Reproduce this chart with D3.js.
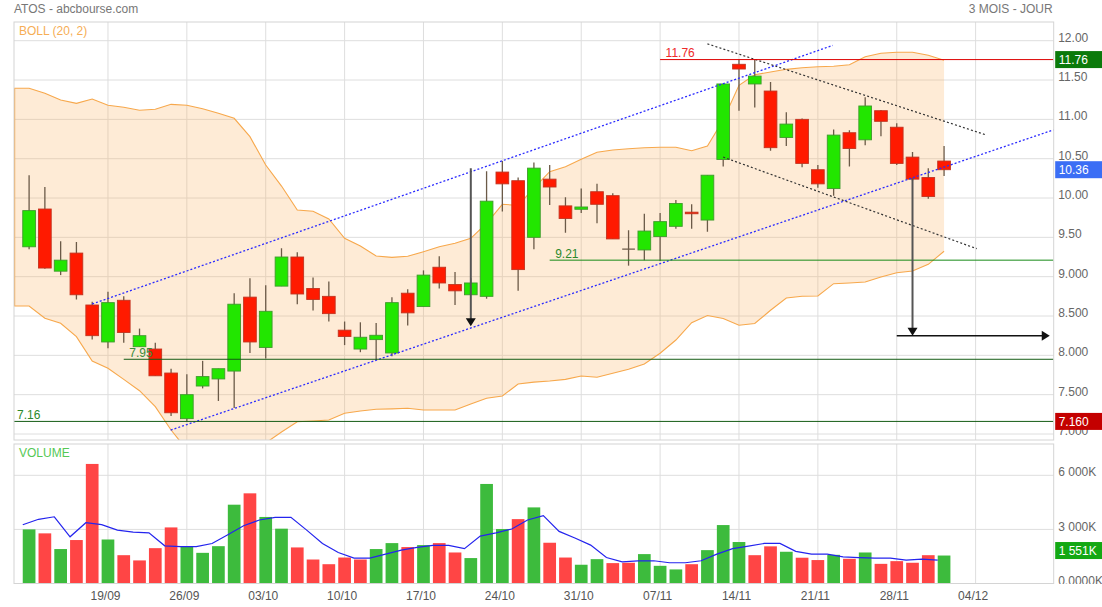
<!DOCTYPE html>
<html><head><meta charset="utf-8">
<script src="https://cdn.jsdelivr.net/npm/d3@7"></script>
<style>
body{margin:0;background:#fff;}
svg text{font-family:"Liberation Sans",Arial,Helvetica,sans-serif;}
</style>
</head><body>
<svg id="chart" width="1102" height="607"></svg>
<script>
// ---------------- DATA ----------------
const opens  = [9.38,9.86,9.07,9.30,8.64,8.17,8.70,8.11,8.08,7.775,7.195,7.61,7.70,7.80,8.74,8.10,8.88,9.25,8.85,8.75,8.32,8.08,8.20,8.03,8.79,8.62,9.12,8.90,8.77,8.75,10.33,10.22,9.50,10.24,9.90,9.857,10.08,10.03,9.35,9.34,9.51,9.64,9.82,9.72,10.49,11.70,11.45,11.36,10.77,11.00,10.36,10.12,10.83,10.74,11.11,10.90,10.52,10.26,10.47];
const highs  = [10.29,10.14,9.45,9.44,8.68,8.81,8.75,8.34,8.16,7.83,7.76,7.93,7.83,8.79,8.98,8.89,9.36,9.31,8.99,8.94,8.43,8.42,8.41,8.74,8.84,9.08,9.26,9.06,8.98,10.34,10.47,10.26,10.45,10.42,10.01,10.12,10.18,10.06,9.59,9.80,9.81,9.975,9.92,10.29,11.45,11.76,11.76,11.475,11.09,11.01,10.42,10.87,10.86,11.28,11.12,10.95,10.585,10.38,10.66];
const lows   = [9.35,9.10,9.02,8.71,8.20,8.09,8.16,8.11,7.74,7.23,7.16,7.58,7.42,7.33,8.03,7.96,8.88,8.65,8.57,8.43,8.13,8.04,7.94,7.99,8.38,8.62,8.85,8.64,8.77,8.72,9.83,8.82,9.35,9.91,9.56,9.81,9.68,9.48,9.14,9.21,9.20,9.61,9.61,9.57,10.40,11.11,11.15,10.60,10.66,10.39,10.13,10.03,10.40,10.67,10.785,10.42,10.22,9.99,10.28];
const closes = [9.84,9.11,9.21,8.77,8.25,8.67,8.29,8.25,7.74,7.27,7.50,7.73,7.83,8.65,8.17,8.56,9.25,8.78,8.71,8.53,8.24,8.23,8.255,8.67,8.54,9.02,8.92,8.82,8.92,9.96,10.18,9.09,10.38,10.14,9.74,9.886,9.92,9.48,9.35,9.58,9.70,9.93,9.80,10.29,11.45,11.64,11.55,10.64,10.94,10.44,10.18,10.80,10.63,11.17,10.975,10.44,10.24,10.02,10.36];
// volume in thousands
const volumes = [3000,2780,1910,2410,6630,2440,1570,1280,1960,3110,2040,1700,2070,4370,5000,3690,3040,2000,1330,1070,1440,1330,1910,2240,2020,2130,2240,1720,1410,5520,3020,3570,4220,2260,1440,1040,1350,1130,1150,1630,980,780,1070,1850,3240,2300,1570,2060,1760,1430,1300,1590,1370,1720,1090,1240,1150,1570,1551];
const volumeMA = [3260,3560,3700,2590,3370,3260,2960,2850,2810,2090,2040,2040,2220,2700,3200,3520,3670,3670,2960,2220,1720,1410,1410,1630,1850,2000,2110,2110,1930,2630,2810,3020,3520,3760,2890,2520,2130,1440,1200,1260,1260,1150,1150,1260,1630,1930,2070,2220,2220,1780,1630,1630,1480,1440,1410,1410,1300,1350,1300];
// Bollinger bands, first value is the day before the first visible candle
const bollStart = -1;
const bollUpper = [11.395,11.395,11.331,11.246,11.204,11.259,11.179,11.153,11.115,11.128,11.191,11.179,11.136,11.077,11.013,10.78,10.42,10.152,9.848,9.831,9.733,9.488,9.39,9.263,9.246,9.259,9.318,9.381,9.424,9.488,9.679,9.92,9.907,10.127,10.335,10.398,10.492,10.581,10.61,10.627,10.64,10.645,10.645,10.602,10.661,10.992,11.433,11.568,11.602,11.636,11.657,11.669,11.675,11.695,11.797,11.84,11.853,11.853,11.814,11.751];
const bollLower = [8.627,8.627,8.471,8.407,8.237,7.928,7.835,7.695,7.55,7.347,7.051,6.80,6.73,6.69,6.70,6.76,6.886,7.025,7.156,7.165,7.178,7.263,7.292,7.314,7.32,7.327,7.305,7.305,7.305,7.381,7.454,7.483,7.636,7.66,7.674,7.695,7.737,7.721,7.772,7.823,7.89,8.026,8.195,8.415,8.506,8.468,8.382,8.405,8.573,8.729,8.751,8.754,8.911,8.92,8.932,8.996,9.051,9.072,9.157,9.323];
// axis
const weekIdx    = [5,10,15,20,25,30,35,40,45,50,55,60];
const weekLabels = ["19/09","26/09","03/10","10/10","17/10","24/10","31/10","07/11","14/11","21/11","28/11","04/12"];
const priceTicks = [12,11.5,11,10.5,10,9.5,9,8.5,8,7.5,7];
const priceTickLabels = ["12.00","11.50","11.00","10.50","10.00","9.50","9.000","8.500","8.000","7.500","7.000"];
const volTicks = [6000,3000,0];
const volTickLabels = ["6 000K","3 000K","0.0000K"];
// drawings: [startIndex, startPrice, endIndex, endPrice]
const channelLines = [[4,8.653,50.94,11.94],[8.976,7.05,64.95,10.867]];
const wedgeLines   = [[43,11.96,60.7,10.80],[44,10.52,60.07,9.356]];
// horizontal levels: price, start index (null = full width), label
const levelPrices = [11.76,9.21,7.95,7.16];
const levelStarts = [40,33,6,null];
const levelLabels = ["11.76","9.21","7.95","7.16"];
// vertical arrows: index, from price, to price
const downArrows = [[28,10.38,8.37],[56,10.25,8.25]];
// horizontal arrow: from index, to index, price
const rightArrow = [55,64.7,8.25];
// last-value boxes
const boxLabels = ["11.76","10.36","7.160","1 551K"];

// ---------------- LAYOUT ----------------
const L = 14, R = 1053.7;
const pTop = 22, pBot = 440, vTop = 444, vBot = 583.5;
const svg = d3.select("#chart");
const x  = d3.scaleLinear().domain([-0.957, 64.95]).range([L, R]);
const y  = d3.scaleLinear().domain([7, 12]).range([434, 40.7]);
const yv = d3.scaleLinear().domain([0, 6000]).range([vBot, 475.3]);
const step = x(1) - x(0);
const bw = step * 0.805;
const idx = d3.range(closes.length);

const defs = svg.append("defs");
defs.append("clipPath").attr("id","pclip").append("rect")
  .attr("x",L).attr("y",pTop).attr("width",R-L).attr("height",pBot-pTop);
defs.append("clipPath").attr("id","vclip").append("rect")
  .attr("x",L).attr("y",vTop).attr("width",R-L).attr("height",vBot-vTop);
defs.append("clipPath").attr("id","vlabclip").append("rect")
  .attr("x",R).attr("y",vTop).attr("width",1102-R).attr("height",vBot-vTop+0.5);

const gridC = "#dedede";
// grid - price
const gGrid = svg.append("g");
gGrid.selectAll(".hp").data(priceTicks).join("line")
  .attr("x1",L).attr("x2",R).attr("y1",d=>y(d)).attr("y2",d=>y(d))
  .attr("stroke",gridC).attr("stroke-width",1);
gGrid.selectAll(".vp").data(weekIdx).join("line")
  .attr("x1",d=>x(d)).attr("x2",d=>x(d)).attr("y1",pTop).attr("y2",pBot)
  .attr("stroke",gridC).attr("stroke-width",1);
gGrid.selectAll(".hv").data(volTicks.filter(d=>d>0)).join("line")
  .attr("x1",L).attr("x2",R).attr("y1",d=>yv(d)).attr("y2",d=>yv(d))
  .attr("stroke",gridC).attr("stroke-width",1);
gGrid.selectAll(".vv").data(weekIdx).join("line")
  .attr("x1",d=>x(d)).attr("x2",d=>x(d)).attr("y1",vTop).attr("y2",vBot)
  .attr("stroke",gridC).attr("stroke-width",1);

// ---------------- PRICE PANEL ----------------
const gP = svg.append("g").attr("clip-path","url(#pclip)");
const band = bollUpper.map((u,k)=>({i:k+bollStart,u:u,l:bollLower[k]}));
gP.append("path").datum(band)
  .attr("d", d3.area().x(d=>x(d.i)).y0(d=>y(d.l)).y1(d=>y(d.u)))
  .attr("fill","rgba(250,175,90,0.25)");
const bandStroke = "#f7a84c";
gP.append("path").datum(band).attr("d", d3.line().x(d=>x(d.i)).y(d=>y(d.u)))
  .attr("fill","none").attr("stroke",bandStroke).attr("stroke-width",1.1);
gP.append("path").datum(band).attr("d", d3.line().x(d=>x(d.i)).y(d=>y(d.l)))
  .attr("fill","none").attr("stroke",bandStroke).attr("stroke-width",1.1);
// left edge of band
gP.append("line").attr("x1",L+0.6).attr("x2",L+0.6)
  .attr("y1",y(d3.max([bollUpper[0],bollUpper[1]]))).attr("y2",y(bollLower[1]))
  .attr("stroke",bandStroke).attr("stroke-width",1.2);

// candles
const wickC = "#6b5a48";
const gC = gP.append("g");
gC.selectAll(".wick").data(idx).join("line")
  .attr("x1",i=>x(i)).attr("x2",i=>x(i))
  .attr("y1",i=>y(highs[i])).attr("y2",i=>y(lows[i]))
  .attr("stroke",wickC).attr("stroke-width",1.3);
gC.selectAll(".body").data(idx.filter(i=>opens[i]!==closes[i])).join("rect")
  .attr("x",i=>x(i)-bw/2).attr("width",bw)
  .attr("y",i=>y(Math.max(opens[i],closes[i])))
  .attr("height",i=>Math.max(1.2,Math.abs(y(opens[i])-y(closes[i]))))
  .attr("fill",i=>closes[i]>opens[i]?"#22e600":"#ff1a00")
  .attr("stroke",i=>closes[i]>opens[i]?"#3f9a2c":"#c2331f")
  .attr("stroke-width",0.9);
gC.selectAll(".doji").data(idx.filter(i=>opens[i]===closes[i])).join("line")
  .attr("x1",i=>x(i)-bw/2).attr("x2",i=>x(i)+bw/2)
  .attr("y1",i=>y(closes[i])).attr("y2",i=>y(closes[i]))
  .attr("stroke",wickC).attr("stroke-width",1.3);

// channel lines
gP.selectAll(".chan").data(channelLines).join("line")
  .attr("x1",d=>x(d[0])).attr("y1",d=>y(d[1])).attr("x2",d=>x(d[2])).attr("y2",d=>y(d[3]))
  .attr("stroke","#2b2bff").attr("stroke-width",1.3).attr("stroke-dasharray","2,2");
gP.selectAll(".wedge").data(wedgeLines).join("line")
  .attr("x1",d=>x(d[0])).attr("y1",d=>y(d[1])).attr("x2",d=>x(d[2])).attr("y2",d=>y(d[3]))
  .attr("stroke","#333").attr("stroke-width",1.2).attr("stroke-dasharray","2,2.2");

// levels
const levelLineC  = ["#dd0000","#178a17","#145c14","#145c14"];
const levelTextC  = ["#ee2a2a","#2b8a2b","#3a8a3a","#2b8a2b"];
levelPrices.forEach((p,k)=>{
  const xs = levelStarts[k]===null ? L : x(levelStarts[k]);
  gP.append("line").attr("x1",xs).attr("x2",R).attr("y1",y(p)).attr("y2",y(p))
    .attr("stroke",levelLineC[k]).attr("stroke-width",1);
  gP.append("text").attr("x",xs + (levelStarts[k]===null?3:5.5)).attr("y",y(p)-2.5)
    .attr("font-size",12).attr("fill",levelTextC[k]).text(levelLabels[k]);
});

// arrows
downArrows.forEach(a=>{
  const ax = x(a[0]), y0 = y(a[1]), y1 = y(a[2]);
  gP.append("line").attr("x1",ax).attr("x2",ax).attr("y1",y0).attr("y2",y1-6)
    .attr("stroke","#555").attr("stroke-width",2);
  gP.append("path").attr("d",`M${ax-5},${y1-8}L${ax+5},${y1-8}L${ax},${y1}Z`).attr("fill","#111");
});
{
  const x0 = x(rightArrow[0]), x1 = x(rightArrow[1]), ay = y(rightArrow[2]);
  svg.append("line").attr("x1",x0).attr("x2",x1-6).attr("y1",ay).attr("y2",ay)
    .attr("stroke","#111").attr("stroke-width",1.5);
  svg.append("path").attr("d",`M${x1-8},${ay-5}L${x1-8},${ay+5}L${x1},${ay}Z`).attr("fill","#111");
}

// ---------------- VOLUME PANEL ----------------
const gV = svg.append("g").attr("clip-path","url(#vclip)");
gV.selectAll(".vol").data(idx).join("rect")
  .attr("x",i=>x(i)-bw/2).attr("width",bw)
  .attr("y",i=>yv(volumes[i])).attr("height",i=>yv(0)-yv(volumes[i]))
  .attr("fill",i=>(i===0||closes[i]>=closes[i-1])?"#3dbb3d":"#ff4545");
gV.append("path").datum(idx)
  .attr("d", d3.line().x(i=>x(i)-bw/2).y(i=>yv(volumeMA[i])))
  .attr("fill","none").attr("stroke","#2424ee").attr("stroke-width",1.2);

// ---------------- BORDERS ----------------
const borderC = "#d4d4d4";
[[pTop,pBot],[vTop,vBot]].forEach(b=>{
  svg.append("rect").attr("x",L).attr("y",b[0]).attr("width",R-L).attr("height",b[1]-b[0])
    .attr("fill","none").attr("stroke",borderC).attr("stroke-width",1);
});

// ---------------- AXES ----------------
const axP = svg.append("g").attr("transform",`translate(${R},0)`)
  .call(d3.axisRight(y).tickValues(priceTicks).tickFormat((d,k)=>priceTickLabels[k]).tickSize(0).tickPadding(4.5));
axP.select(".domain").remove();
axP.selectAll("text").attr("font-size",12).attr("fill","#666").attr("dy","0.05em")
  .style("font-family",'"Liberation Sans",Arial,sans-serif');

const axV = svg.append("g").attr("clip-path","url(#vlabclip)").append("g").attr("transform",`translate(${R},0)`)
  .call(d3.axisRight(yv).tickValues(volTicks).tickFormat((d,k)=>volTickLabels[k]).tickSize(0).tickPadding(4.5));
axV.select(".domain").remove();
axV.selectAll("text").attr("font-size",12).attr("fill","#666").attr("dy","0.05em")
  .style("font-family",'"Liberation Sans",Arial,sans-serif');

const axX = svg.append("g").attr("transform",`translate(-3,${vBot})`)
  .call(d3.axisBottom(x).tickValues(weekIdx).tickFormat((d,k)=>weekLabels[k]).tickSize(0).tickPadding(8));
axX.select(".domain").remove();
axX.selectAll("text").attr("font-size",12).attr("fill","#555")
  .style("font-family",'"Liberation Sans",Arial,sans-serif');

// value boxes
const boxVals = [d3.max(highs), closes[closes.length-1], d3.min(lows), volumes[volumes.length-1]];
const boxY = [y(boxVals[0]), y(boxVals[1]), y(boxVals[2]), yv(boxVals[3])-5];
const boxC = ["#0b7a0b","#3b6ef5","#c40000","#13a813"];
boxLabels.forEach((t,k)=>{
  svg.append("rect").attr("x",R+1.5).attr("y",boxY[k]-8.5).attr("width",1102-R-1.5).attr("height",17)
    .attr("fill",boxC[k]);
  svg.append("text").attr("x",R+5).attr("y",boxY[k]+4.5).attr("font-size",12)
    .attr("fill","#fff").text(t);
});

// ---------------- TITLES ----------------
svg.append("text").attr("x",L).attr("y",13).attr("font-size",12).attr("fill","#777").text("ATOS - abcbourse.com");
svg.append("text").attr("x",R-1).attr("y",13).attr("font-size",12).attr("fill","#777")
  .attr("text-anchor","end").text("3 MOIS - JOUR");
svg.append("text").attr("x",19).attr("y",35).attr("font-size",12).attr("fill","#f6ae55").text("BOLL (20, 2)");
svg.append("text").attr("x",19).attr("y",457).attr("font-size",12).attr("fill","#55c855").text("VOLUME");
</script>
</body></html>
